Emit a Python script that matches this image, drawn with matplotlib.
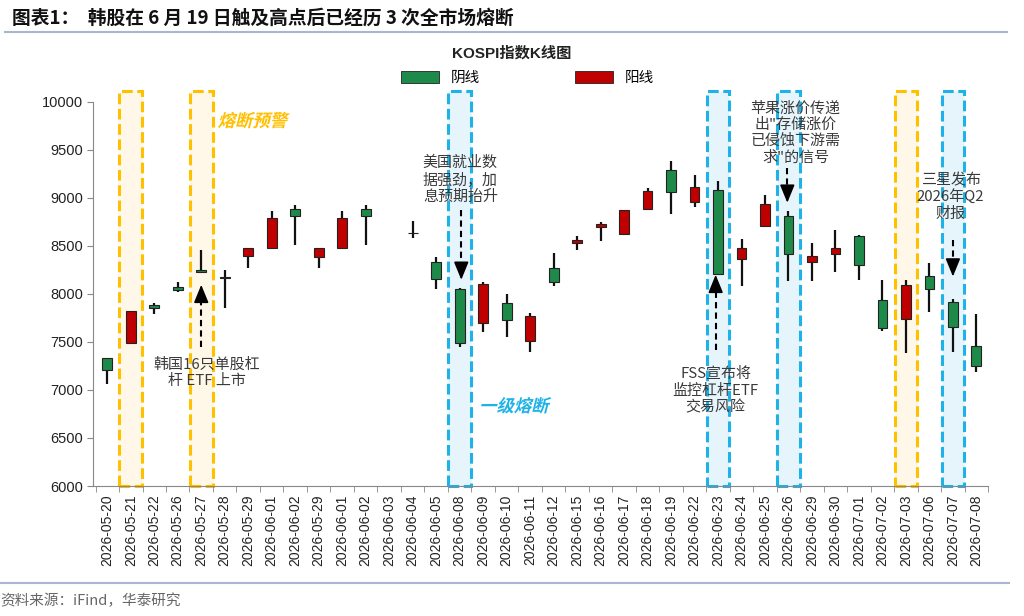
import numpy as np
import matplotlib.pyplot as plt
from matplotlib.patches import Rectangle, Patch, PathPatch
from matplotlib.textpath import TextPath
from matplotlib.font_manager import FontProperties
from matplotlib.transforms import Affine2D

plt.rcParams['font.family'] = ['Liberation Sans', 'Noto Sans CJK SC', 'DejaVu Sans']

# --- KOSPI daily candles ---
dates = ['2026-05-20', '2026-05-21', '2026-05-22', '2026-05-26', '2026-05-27',
         '2026-05-28', '2026-05-29', '2026-06-01', '2026-06-02', '2026-05-29',
         '2026-06-01', '2026-06-02', '2026-06-03', '2026-06-04', '2026-06-05',
         '2026-06-08', '2026-06-09', '2026-06-10', '2026-06-11', '2026-06-12',
         '2026-06-15', '2026-06-16', '2026-06-17', '2026-06-18', '2026-06-19',
         '2026-06-22', '2026-06-23', '2026-06-24', '2026-06-25', '2026-06-26',
         '2026-06-29', '2026-06-30', '2026-07-01', '2026-07-02', '2026-07-03',
         '2026-07-06', '2026-07-07', '2026-07-08']
nan = np.nan
opens = [7337, 7490, 7885, 8076, 8243, 8167, 8389, 8482, 8885, 8385,
         8482, 8885, nan, 8635, 8333, 8052, 7701, 7903, 7510, 8274,
         8528, 8691, 8622, 8882, 9292, 8955, 9083, 8361, 8701, 8813,
         8336, 8417, 8597, 7937, 7740, 8188, 7920, 7462]
closes = [7208, 7823, 7854, 8042, 8229, 8180, 8476, 8789, 8805, 8476,
          8789, 8805, nan, 8630, 8156, 7493, 8101, 7729, 7774, 8122,
          8555, 8726, 8868, 9066, 9055, 9111, 8205, 8476, 8938, 8413,
          8396, 8476, 8302, 7649, 8087, 8052, 7660, 7253]
highs = [7337, 7823, 7906, 8128, 8458, 8250, 8476, 8865, 8927, 8476,
         8865, 8927, nan, 8753, 8380, 8060, 8118, 8000, 7805, 8424,
         8597, 8747, 8870, 9101, 9378, 9240, 9170, 8573, 9031, 8857,
         8528, 8667, 8615, 8146, 8139, 8326, 7948, 7792]
lows = [7063, 7490, 7792, 8018, 8229, 7851, 8274, 8482, 8503, 8274,
        8482, 8503, nan, 8580, 8049, 7451, 7607, 7549, 7399, 8086,
        8451, 8545, 8612, 8868, 8833, 8899, 8205, 8086, 8701, 8135,
        8135, 8222, 8146, 7618, 7389, 7816, 7399, 7191]

# highlighted days: circuit-breaker warning (yellow) and level-1 halt (blue)
warn_days = ['2026-05-21', '2026-05-27', '2026-07-03']
halt_days = ['2026-06-08', '2026-06-23', '2026-06-26', '2026-07-07']

# event notes: (x position in category units, y value, text)
notes = [
    (4.24, 7177, '韩国16只单股杠\n杆 ETF 上市'),
    (15.03, 9188, '美国就业数\n据强劲，加\n息预期抬升'),
    (25.9, 6990, 'FSS宣布将\n监控杠杆ETF\n交易风险'),
    (29.3, 9674, '苹果涨价传递\n出"存储涨价\n已侵蚀下游需\n求"的信号'),
    (35.9, 9005, '三星发布\n2026年Q2\n财报'),
]
# arrows: (x, from value, to value)
arrows = [
    (4.0, 7448, 8094),
    (15.07, 8875, 8146),
    (25.9, 7417, 8198),
    (28.95, 9313, 8948),
    (36.0, 8562, 8180),
]

GREEN = '#1E8A4A'
RED = '#C00000'
CJK = ['Noto Sans CJK SC', 'DejaVu Sans']
DPI = 100

fig = plt.figure(figsize=(10.24, 6.16), dpi=DPI)
ax = fig.add_axes([0.091, 0.211, 0.874, 0.624])

x = np.arange(len(dates))
o = np.array(opens, dtype=float)
c = np.array(closes, dtype=float)
h = np.array(highs, dtype=float)
l = np.array(lows, dtype=float)

# highlight boxes
for days, edge, face in [(warn_days, '#FFC000', '#FFF8E8'), (halt_days, '#1FB2E8', '#E6F4FB')]:
    for d in days:
        i = dates.index(d)
        ax.add_patch(Rectangle((i - 0.48, 6000), 0.96, 4107, facecolor=face, edgecolor=edge,
                               linewidth=2.2, linestyle=(0, (3.5, 1.5)), clip_on=False, zorder=1))

# candles
ok = ~np.isnan(o)
colors = np.where(c < o, GREEN, RED)
ax.vlines(x[ok], l[ok], h[ok], color='#111111', linewidth=1.6, zorder=3)
body_lo = np.minimum(o, c)
body_h = np.abs(c - o)
ax.bar(x[ok], body_h[ok], bottom=body_lo[ok], width=0.42, color=colors[ok],
       edgecolor='#222222', linewidth=0.8, zorder=4)

ax.set_xlim(-0.6, len(dates) - 0.5)
ax.set_ylim(6000, 10000)
ax.set_yticks(np.arange(6000, 10001, 500))
ax.set_xticks(x)
ax.set_xticklabels(dates, rotation=90, fontsize=10, color='#222222')
ax.set_xticks(np.arange(-0.5, len(dates), 1), minor=True)
ax.tick_params(axis='x', which='major', length=0, pad=6)
ax.tick_params(axis='x', which='minor', length=4, color='#888888')
ax.tick_params(axis='y', length=4, color='#888888', labelsize=10.5, labelcolor='#222222')
for s in ['top', 'right']:
    ax.spines[s].set_visible(False)
for s in ['left', 'bottom']:
    ax.spines[s].set_color('#888888')

# notes and arrows
for nx, ny, txt in notes:
    ax.text(nx, ny, txt, ha='center', va='center', fontsize=10.8, color='#3a3a3a',
            family=CJK, linespacing=1.2, zorder=5)
head = 125  # arrow head length in data units
for axx, y0, y1 in arrows:
    sgn = 1 if y1 > y0 else -1
    base = y1 - sgn * head
    ax.plot([axx, axx], [y0, base + sgn * 20], color='black', lw=1.5,
            linestyle=(0, (3, 2)), zorder=5)
    ax.annotate('', xy=(axx, y1), xytext=(axx, base),
                arrowprops=dict(arrowstyle='-|>,head_width=0.45,head_length=1.1',
                                lw=1.2, color='black', shrinkA=0, shrinkB=0), zorder=5)


def slanted_label(xv, yv, txt, color):
    # oblique label: the CJK font has no italic, so shear the glyph outlines
    tp = TextPath((0, 0), txt, size=12.5, prop=FontProperties(family='Noto Sans CJK SC', weight='bold'))
    px, py = ax.transData.transform((xv, yv))
    tr = Affine2D().translate(0, -5).skew_deg(14, 0).scale(DPI / 72).translate(px, py)
    fig.add_artist(PathPatch(tp, transform=tr, facecolor=color, edgecolor='none', zorder=6))


slanted_label(4.77, 9812, '熔断预警', '#FFC000')
slanted_label(15.9, 6844, '一级熔断', '#1FB2E8')

# chart title and legend
fig.text(0.5, 0.914, 'KOSPI指数K线图', ha='center', va='center', fontsize=11,
         fontweight='bold', color='#222222')
handles = [Patch(facecolor=GREEN, edgecolor='#222222', linewidth=0.6),
           Patch(facecolor=RED, edgecolor='#222222', linewidth=0.6)]
fig.legend(handles, ['阴线', '阳线'], loc='center', bbox_to_anchor=(0.515, 0.874), ncol=2,
           frameon=False, handlelength=2.6, handleheight=0.9, columnspacing=6.5,
           prop={'family': CJK, 'size': 10.5})

# page header / footer
fig.text(0.012, 0.971, '图表1：  韩股在 6 月 19 日触及高点后已经历 3 次全市场熔断', ha='left',
         va='center', fontsize=13.5, fontweight='bold', color='#111111', family=CJK)
fig.add_artist(plt.Line2D([0.005, 0.983], [0.948, 0.948], color='#A9B6D2', lw=1.5))
fig.add_artist(plt.Line2D([0.0, 0.985], [0.054, 0.054], color='#A9B6D2', lw=1.5))
fig.text(0.0, 0.025, '资料来源：iFind，华泰研究', ha='left', va='center', fontsize=10.5,
         color='#666666', family=CJK)

fig.savefig('out.png', dpi=DPI)
